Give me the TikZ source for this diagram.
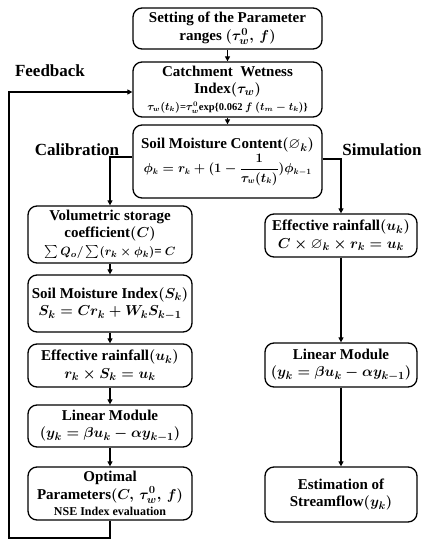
\documentclass[tikz,border=0pt]{standalone}
\usepackage{amsmath,amssymb}
\usepackage{graphicx}
\usepackage{fontspec}
\setmainfont{Liberation Serif}
\usetikzlibrary{arrows.meta}
\begin{document}
\begin{tikzpicture}[x=1pt,y=-1pt,
  box/.style={draw, line width=1.3pt, rounded corners=9pt, align=center,
    font=\fontsize{15}{17.5}\selectfont\bfseries\boldmath, inner sep=1pt},
  wbig/.style={minimum width=189pt},
  wleft/.style={minimum width=164pt},
  wright/.style={minimum width=152pt},
  arr/.style={line width=1.3pt, -{Triangle[length=5pt,width=5pt]}},
  lbl/.style={font=\fontsize{17}{19}\selectfont\bfseries}]
\useasboundingbox (0,0) rectangle (425,543);
\node[box,wbig,minimum height=41pt] (b1) at (227.5,28.5) {Setting of the Parameter\\ ranges $(\tau_w^0,\,f)$};
\node[box,wbig,minimum height=55pt] (b2) at (227.5,89.5) {Catchment~ Wetness\\ Index$(\tau_w)$\\[-1pt]
  {\fontsize{10.5}{12}\selectfont $\tau_w(t_k)$=$\tau_w^0$exp\{0.062 $f$ $(t_m-t_k)$\}}};
\node[box,wbig,minimum height=73pt] (b3) at (227.5,161.5) {Soil Moisture Content$(\varnothing_k)$\\[1pt]
  \resizebox{168pt}{!}{\fontsize{13.5}{15}\selectfont\boldmath $\phi_k = r_k + (1-\dfrac{1}{\tau_w(t_k)})\phi_{k-1}$}};
\node[box,wleft,minimum height=57pt] (vol) at (110,234.5) {Volumetric storage\\ coefficient$(C)$\\[0pt]
  {\fontsize{13}{15}\selectfont $\sum Q_o/\sum(r_k\times\phi_k)$= $C$}};
\node[box,wleft,minimum height=57pt] (smi) at (110,303.5) {Soil Moisture Index$(S_k)$\\ $S_k=Cr_k+W_kS_{k-1}$};
\node[box,wleft,minimum height=43pt] (effl) at (110,365.5) {Effective rainfall$(u_k)$\\ $r_k\times S_k=u_k$};
\node[box,wleft,minimum height=42pt] (linl) at (110,426) {Linear Module\\ $(y_k=\beta u_k-\alpha y_{k-1})$};
\node[box,wleft,minimum height=53pt] (opt) at (110,493.5) {Optimal\\ Parameters$(C,\,\tau_w^0,\,f)$\\[-1pt]
  {\fontsize{12}{13}\selectfont NSE Index evaluation}};
\node[box,wright,minimum height=43pt] (effr) at (341,235.5) {Effective rainfall$(u_k)$\\ $C\times\varnothing_k\times r_k=u_k$};
\node[box,wright,minimum height=44pt] (linr) at (341,365) {Linear Module\\ $(y_k=\beta u_k-\alpha y_{k-1})$};
\node[box,wright,minimum height=55pt] (est) at (341,494.5) {Estimation of\\ Streamflow$(y_k)$};
\node[lbl] (fb) at (50,71) {Feedback};
\node[lbl] (cal) at (77,150) {Calibration};
\node[lbl] (sim) at (382,150) {Simulation};
\coordinate (c1) at (110,538);
\coordinate (c2) at (9,538);
\coordinate (c3) at (9,92);
\draw[arr] (b1) -- (b2);
\draw[arr] (b2) -- (b3);
\draw[arr] ([yshift=4.5pt]b3.west) -| (vol.north);
\draw[arr] ([yshift=2.5pt]b3.east) -| (effr.north);
\draw[arr] (vol) -- (smi);
\draw[arr] (smi) -- (effl);
\draw[arr] (effl) -- (linl);
\draw[arr] (linl) -- (opt);
\draw[arr] (effr) -- (linr);
\draw[arr] (linr) -- (est);
\draw[arr] (opt.south) -- (c1) -- (c2) -- (c3) -- (c3 -| b2.west);
\end{tikzpicture}
\end{document}
